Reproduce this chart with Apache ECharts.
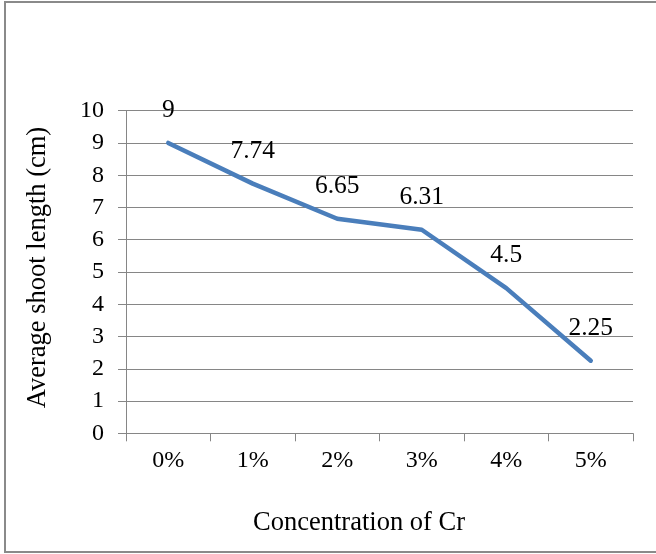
<!DOCTYPE html>
<html>
<head>
<meta charset="utf-8">
<script src="https://cdn.jsdelivr.net/npm/echarts@6/dist/echarts.min.js"></script>
<style>
  html, body { margin: 0; padding: 0; background: #fff; }
  #chart { width: 656px; height: 554px; }
</style>
</head>
<body>
<div id="chart"></div>
<script>
// Shoot length under increasing chromium concentration
const categories = ['0%', '1%', '2%', '3%', '4%', '5%'];
const shootLength = [9, 7.74, 6.65, 6.31, 4.5, 2.25];
const yTicks = { min: 0, max: 10, interval: 1 };
const xTitle = 'Concentration of Cr';
const yTitle = 'Average shoot length (cm)';

const FONT = "'Liberation Serif', 'Times New Roman', serif";
const GRAY = '#868686';

const chart = echarts.init(document.getElementById('chart'), null, { renderer: 'canvas' });

chart.setOption({
  backgroundColor: '#ffffff',
  animation: false,
  graphic: [
    {
      type: 'rect',
      shape: { x: 5, y: 2, width: 660, height: 550 },
      style: { fill: 'none', stroke: '#8a8a8a', lineWidth: 2 },
      silent: true
    },
    {
      type: 'text',
      x: 359, y: 523,
      style: {
        text: xTitle, fontFamily: FONT, fontSize: 26.5, fill: '#000',
        textAlign: 'center', textVerticalAlign: 'middle'
      },
      silent: true
    },
    {
      type: 'text',
      x: 38, y: 267.5,
      rotation: Math.PI / 2,
      style: {
        text: yTitle, fontFamily: FONT, fontSize: 26.5, fill: '#000',
        textAlign: 'center', textVerticalAlign: 'middle'
      },
      silent: true
    }
  ],
  grid: { left: 126, right: 23, top: 110.7, bottom: 120.7, containLabel: false },
  xAxis: {
    type: 'category',
    data: categories,
    boundaryGap: true,
    axisLine: { show: true, lineStyle: { color: GRAY, width: 1 } },
    axisTick: { show: true, length: 8, alignWithLabel: false, lineStyle: { color: GRAY, width: 1 } },
    axisLabel: { fontFamily: FONT, fontSize: 24, color: '#000', margin: 15 },
    splitLine: { show: false }
  },
  yAxis: {
    type: 'value',
    min: yTicks.min,
    max: yTicks.max,
    interval: yTicks.interval,
    axisLine: { show: true, lineStyle: { color: GRAY, width: 1 } },
    axisTick: { show: true, length: 8, lineStyle: { color: GRAY, width: 1 } },
    axisLabel: { fontFamily: FONT, fontSize: 24, color: '#000', margin: 22 },
    splitLine: { show: true, lineStyle: { color: GRAY, width: 1 } }
  },
  series: [{
    type: 'line',
    data: shootLength,
    symbol: 'circle',
    symbolSize: 1,
    showSymbol: true,
    itemStyle: { color: 'rgba(0,0,0,0)' },
    lineStyle: { color: '#4A7EBB', width: 4.5, cap: 'round', join: 'round' },
    label: {
      show: true,
      position: 'top',
      distance: 19,
      fontFamily: FONT,
      fontSize: 25.5,
      color: '#000'
    }
  }]
});
</script>
</body>
</html>
